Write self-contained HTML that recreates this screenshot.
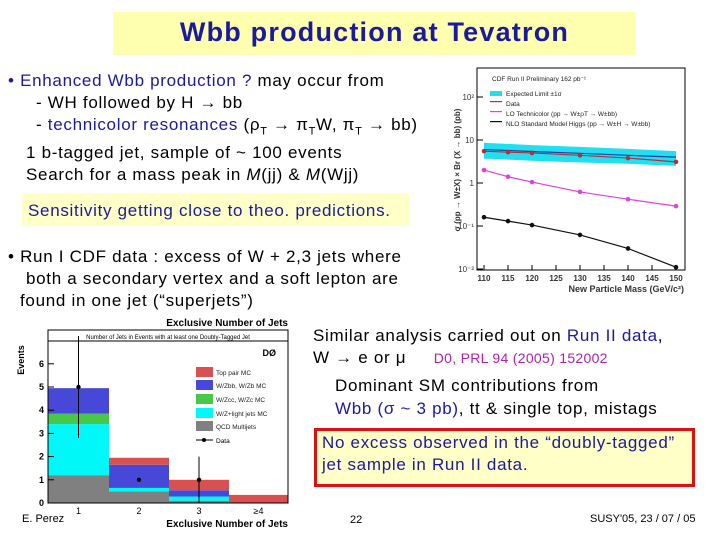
<!DOCTYPE html>
<html><head><meta charset="utf-8"><style>
body{margin:0;width:720px;height:540px;background:#fff;overflow:hidden;position:relative;font-family:"Liberation Sans",sans-serif}
.t{position:absolute;white-space:nowrap;font-size:17px;letter-spacing:0.7px;color:#000;line-height:1}
.b{color:#1a1aa0}
svg{position:absolute;left:0;top:0}
</style></head><body>
<div style="position:absolute;left:113px;top:12px;width:523px;height:43px;background:#ffffb0"></div>
<div class="t b" style="left:113px;width:523px;text-align:center;top:19px;font-size:27px;letter-spacing:1.2px;font-weight:bold">Wbb production at Tevatron</div>

<div class="t" style="left:8px;top:72px"><span class="b">• Enhanced Wbb production ?</span> may occur from</div>
<div class="t" style="left:36px;top:94px">- WH followed by H → bb</div>
<div class="t" style="left:36px;top:116px">- <span class="b">technicolor resonances</span> (ρ<sub style="font-size:11px">T</sub> → π<sub style="font-size:11px">T</sub>W, π<sub style="font-size:11px">T</sub> → bb)</div>
<div class="t" style="left:26px;top:144px">1 b-tagged jet, sample of ~ 100 events</div>
<div class="t" style="left:26px;top:166px">Search for a mass peak in <i>M</i>(jj) &amp; <i>M</i>(Wjj)</div>
<div style="position:absolute;left:22px;top:193px;width:388px;height:33px;background:#ffffc8"></div>
<div class="t b" style="left:28px;top:202px">Sensitivity getting close to theo. predictions.</div>

<div class="t" style="left:8px;top:248px">• Run I CDF data : excess of W + 2,3 jets where</div>
<div class="t" style="left:26px;top:270px">both a secondary vertex and a soft lepton are</div>
<div class="t" style="left:20px;top:292px">found in one jet (“superjets”)</div>

<div class="t" style="left:313px;top:327px">Similar analysis carried out on <span class="b">Run II data</span>,</div>
<div class="t" style="left:313px;top:349px">W → e or μ <span style="color:#b020b0;font-size:14px;letter-spacing:0.3px;margin-left:22px">D0, PRL 94 (2005) 152002</span></div>
<div class="t" style="left:335px;top:377px">Dominant SM contributions from</div>
<div class="t" style="left:335px;top:400px"><span class="b">Wbb (σ ~ 3 pb)</span>, tt &amp; single top, mistags</div>
<div style="position:absolute;left:314px;top:428px;width:375px;height:53px;background:#ffffc8;border:3px solid #e01010"></div>
<div class="t b" style="left:322px;top:434px">No excess observed in the “doubly-tagged”</div>
<div class="t b" style="left:322px;top:456px">jet sample in Run II data.</div>

<div class="t" style="left:22px;top:514px;font-size:11px;letter-spacing:0">E. Perez</div>
<div class="t" style="left:350px;top:515px;font-size:11px;letter-spacing:0">22</div>
<div class="t" style="left:590px;top:514px;font-size:11px;letter-spacing:0">SUSY'05, 23 / 07 / 05</div>

<svg id="c1" width="720" height="540"></svg>
<svg id="c2" width="720" height="540"></svg>
<script>
// ---- CDF chart data ----
const masses=[110,115,120,130,140,150];
const dataXs=[5.5,5.2,5.0,4.4,3.8,3.1];
const expLimit=[6.0,5.7,5.4,4.9,4.4,4.0];
const bandHi=[8.6,8.1,7.6,6.9,6.2,5.5];
const bandLo=[3.7,3.5,3.3,3.0,2.8,2.5];
const techni=[2.0,1.4,1.05,0.62,0.42,0.29];
const higgs=[0.16,0.13,0.105,0.062,0.030,0.011];
const xTicks1=[110,115,120,125,130,135,140,145,150];
const yTicks1=[0.01,0.1,1,10,100];
const yTickLbl1=["10⁻²","10⁻¹","1","10","10²"];
// ---- D0 chart data ----
const jetBins=["1","2","3","≥4"];
const qcd=[1.2,0.5,0.1,0];
const wlight=[2.2,0.15,0.18,0];
const wcc=[0.45,0,0,0];
const wbb=[1.1,1.0,0.27,0];
const ttop=[0,0.3,0.45,0.35];
const dataEv=[5,1,1];
const errLo=[2.8,1,0];
const errHi=[7.2,1,2];
const yTicks2=[0,1,2,3,4,5,6];

const NS="http://www.w3.org/2000/svg";
function mk(svg,tag,a,txt){const e=document.createElementNS(NS,tag);for(const k in a)e.setAttribute(k,a[k]);if(txt!==undefined)e.textContent=txt;svg.appendChild(e);return e;}

// chart 1
(function(){
const s=document.getElementById('c1');
const X=m=>484+(m-110)/40*192;
const Y=v=>183-Math.log10(v)*43;
let f=mk(s,'rect',{x:477,y:68,width:208,height:202,fill:'none',stroke:'#000','stroke-width':1});

xTicks1.forEach(t=>{let l=mk(s,'line',{x1:X(t),x2:X(t),y1:270,y2:265,stroke:'#000'});
let tx=mk(s,'text',{x:X(t),y:281,'font-size':8,'text-anchor':'middle','font-weight':'bold','fill':'#333'},t);});
yTicks1.forEach((t,i)=>{let tx=mk(s,'text',{x:474,y:Y(t)+3,'font-size':8,'text-anchor':'end','fill':'#333'},yTickLbl1[i]);
let l=mk(s,'line',{x1:477,x2:483,y1:Y(t),y2:Y(t),stroke:'#000'});});
let xl=mk(s,'text',{x:684,y:292,'font-size':9,'text-anchor':'end','font-weight':'bold','fill':'#333'},'New Particle Mass (GeV/c²)');
let yl=mk(s,'text',{x:460,y:170,'font-size':8,'text-anchor':'middle','font-weight':'bold','fill':'#333',transform:'rotate(-90 460 170)'},'σ (pp → W±X) × Br (X → bb) (pb)');
let pts=masses.map((m,i)=>X(m)+','+Y(bandHi[i])).concat(masses.map((m,i)=>X(m)+','+Y(bandLo[i])).reverse()).join(' ');
let b=mk(s,'polygon',{points:pts,fill:'#20e0f0'});
function line(vals,col,name,marker){let p=mk(s,'polyline',{points:masses.map((m,i)=>X(m)+','+Y(vals[i])).join(' '),fill:'none',stroke:col,'stroke-width':1.2});
if(marker)masses.forEach((m,i)=>{let c=mk(s,'circle',{cx:X(m),cy:Y(vals[i]),r:2.3,fill:col});});}
line(expLimit,'#2040a0','expected-limit-line',false);
line(dataXs,'#b03040','data-line',true);
line(techni,'#e040e0','technicolor-line',true);
line(higgs,'#111','higgs-line',true);
let lg=[['CDF Run II Preliminary 162 pb⁻¹',78,null],['Expected Limit ±1σ',93,'#20e0f0'],['Data',103,'#b03040'],['LO Technicolor (pp → W±ρT → W±bb)',113,'#e040e0'],['NLO Standard Model Higgs (pp → W±H → W±bb)',123,'#111']];
lg.forEach(e=>{let t=mk(s,'text',{x:e[2]?506:492,y:e[1]+3,'font-size':6.5,'fill':'#222'},e[0]);
if(e[2]){let r=mk(s,'rect',{x:490,y:e[1]-2,width:12,height:e[2]=='#20e0f0'?5:1.2,fill:e[2]});}});
})();

// chart 2
(function(){
const s=document.getElementById('c2');
const edges=[48,109,169,229,288];
const Y=v=>503-v*23.2;
let title=mk(s,'text',{x:288,y:326,'font-size':10,'text-anchor':'end','font-weight':'bold'},'Exclusive Number of Jets');
const stacks=[[qcd,'#808080'],[wlight,'#00f8f8'],[wcc,'#48c848'],[wbb,'#4848d8'],[ttop,'#d85050']];
jetBins.forEach((b,i)=>{let base=0;stacks.forEach((st,k)=>{const v=st[0][i];if(v>0){let r=mk(s,'rect',{x:edges[i],y:Y(base+v),width:edges[i+1]-edges[i],height:v*23.2,fill:st[1]});}base+=v;});
let t=mk(s,'text',{x:(edges[i]+edges[i+1])/2,y:514,'font-size':9,'text-anchor':'middle'},b);});
let f=mk(s,'rect',{x:48,y:330,width:240,height:173,fill:'none',stroke:'#000','stroke-width':1});
let sb=mk(s,'line',{x1:48,x2:288,y1:341,y2:341,stroke:'#000'});
let st=mk(s,'text',{x:168,y:339,'font-size':6,'text-anchor':'middle'},'Number of Jets in Events with at least one Doubly-Tagged Jet');
yTicks2.forEach(t=>{let tx=mk(s,'text',{x:44,y:Y(t)+3,'font-size':9,'text-anchor':'end','font-weight':'bold'},t);
let l=mk(s,'line',{x1:48,x2:54,y1:Y(t),y2:Y(t),stroke:'#000'});});
dataEv.forEach((v,i)=>{const cx=(edges[i]+edges[i+1])/2;let l=mk(s,'line',{x1:cx,x2:cx,y1:Y(Math.min(errHi[i],7.4)),y2:Y(errLo[i]),stroke:'#000','stroke-width':1});
let c=mk(s,'circle',{cx:cx,cy:Y(v),r:2.2,fill:'#000'});});
let yl=mk(s,'text',{x:24,y:360,'font-size':9,'text-anchor':'middle','font-weight':'bold',transform:'rotate(-90 24 360)'},'Events');
let xl=mk(s,'text',{x:288,y:527,'font-size':10,'text-anchor':'end','font-weight':'bold'},'Exclusive Number of Jets');
let d0=mk(s,'text',{x:276,y:356,'font-size':9,'text-anchor':'end','font-weight':'bold'},'DØ');
const lgn=[['Top pair MC','#d85050',372],['W/Zbb, W/Zb MC','#4848d8',385],['W/Zcc, W/Zc MC','#48c848',399],['W/Z+light jets MC','#00f8f8',413],['QCD Multijets','#808080',426]];
lgn.forEach(e=>{let r=mk(s,'rect',{x:196,y:e[2]-5,width:17,height:10,fill:e[1]});
let t=mk(s,'text',{x:216,y:e[2]+3,'font-size':6.5,'fill':'#222'},e[0]);});
let dl=mk(s,'line',{x1:196,x2:213,y1:440,y2:440,stroke:'#000'});
let dc=mk(s,'circle',{cx:204,cy:440,r:2,fill:'#000'});
let dt=mk(s,'text',{x:216,y:443,'font-size':6.5},'Data');
})();
</script>
</body></html>
